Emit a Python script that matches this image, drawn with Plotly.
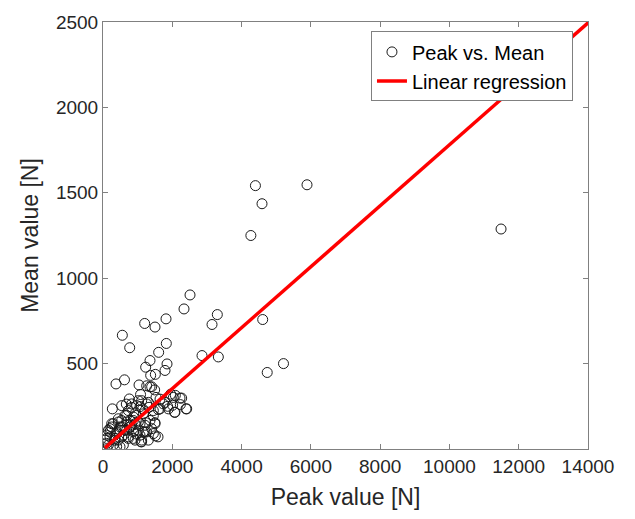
import numpy as np
import plotly.graph_objects as go

# Peak force vs. mean force per sample [N]
peak_values = [
    11490, 5889, 4400, 4590, 4268,
    2512, 2338, 3300, 3147, 4610, 1819, 1203, 1501, 558, 1828, 771,
    2858, 3329, 1607, 1357, 1848, 1232, 5210, 4740, 1790, 1511, 1376,
    375, 620, 1040, 1357, 1491, 1084, 1530, 1953, 2088, 2271, 760, 673,
    270, 1068, 1143, 1328, 1597, 1865, 2009, 2066, 2396, 2232, 827, 941,
    1501, 1232, 1511, 1588, 1097, 1212, 972, 298, 443, 539, 683, 876,
    1164, 491, 683, 827, 443, 202, 154, 250, 106, 298, 491, 347, 587,
    731, 876, 1020, 1357, 1453, 780, 635, 106, 202, 395, 539, 924, 1020,
    731, 972, 1116, 1261, 1742, 1261, 1405, 1646, 1790, 2031, 2223, 2416,
    2078, 1886, 1646, 1212, 1501, 1453, 1164, 1116, 539, 827, 1020, 1309,
    1453, 683, 876, 1068, 443, 202, 395, 635, 876, 1068, 1261, 1405, 1309,
    1116, 924, 731, 539, 347, 154, 395, 587, 58, 106, 250, 780, 491,
]
mean_values = [
    1288, 1547, 1542, 1436, 1250,
    902, 820, 787, 729, 758, 762, 735, 714, 666, 618, 593,
    547, 539, 566, 518, 498, 479, 500, 448, 460, 437, 431,
    381, 405, 375, 364, 346, 319, 302, 321, 314, 298, 293, 263,
    235, 248, 235, 244, 231, 250, 256, 215, 235, 260, 244, 212,
    154, 154, 77, 71, 42, 100, 87, 148, 177, 167, 158, 187,
    206, 110, 110, 139, 52, 71, 110, 129, 33, 23, 13, 62, 81,
    71, 62, 110, 167, 196, 167, 196, 62, 100, 90, 129, 148, 158,
    225, 254, 283, 264, 264, 370, 364, 292, 273, 302, 298, 235,
    215, 235, 235, 139, 148, 90, 100, 52, 254, 264, 283, 273,
    225, 196, 167, 148, 158, 119, 100, 110, 100, 81, 100, 119, 52,
    42, 52, 62, 71, 52, 23, 13, 23, 52, 81, 148, 129, 129,
]

# Linear regression coefficients: mean = slope * peak + intercept
reg_slope = 0.1785
reg_intercept = -4.0

x_ticks = [0, 2000, 4000, 6000, 8000, 10000, 12000, 14000]
x_tick_labels = ["0", "2000", "4000", "6000", "8000", "10000", "12000", "14000"]
y_ticks = [500, 1000, 1500, 2000, 2500]
y_tick_labels = ["500", "1000", "1500", "2000", "2500"]

reg_x = np.array([min(peak_values), 14500])
reg_y = reg_slope * reg_x + reg_intercept

fig = go.Figure()
fig.add_trace(go.Scatter(
    x=peak_values, y=mean_values, mode="markers", name="Peak vs. Mean",
    marker=dict(symbol="circle-open", size=10, color="#1a1a1a",
                line=dict(width=1, color="#1a1a1a")),
    cliponaxis=True,
))
fig.add_trace(go.Scatter(
    x=reg_x, y=reg_y, mode="lines", name="Linear regression",
    line=dict(color="#ff0000", width=3.5),
))

axis_common = dict(
    showgrid=False, zeroline=False, showline=True, linecolor="#808080",
    linewidth=1, mirror="ticks", ticks="inside", ticklen=5, tickwidth=1,
    tickcolor="#808080",
    tickfont=dict(family="Liberation Sans, Arial", size=19, color="#262626"),
)

fig.update_layout(
    width=635, height=519,
    margin=dict(l=103, r=47, t=16, b=70),
    paper_bgcolor="white", plot_bgcolor="white",
    font=dict(family="Liberation Sans, Arial", color="#262626"),
    xaxis=dict(range=[0, 14000], tickvals=x_ticks, ticktext=x_tick_labels,
               title=dict(text="Peak value [N]", font=dict(size=23), standoff=13),
               **axis_common),
    yaxis=dict(range=[0, 2500], tickvals=y_ticks, ticktext=y_tick_labels,
               title=dict(text="Mean value [N]", font=dict(size=23), standoff=10),
               **axis_common),
    legend=dict(x=0.969, y=0.978, xanchor="right", yanchor="top",
                bgcolor="white", bordercolor="#808080", borderwidth=1,
                font=dict(size=20, color="#000000"),
                tracegroupgap=0, itemwidth=30),
    showlegend=True,
)

fig.write_html("out.html")
